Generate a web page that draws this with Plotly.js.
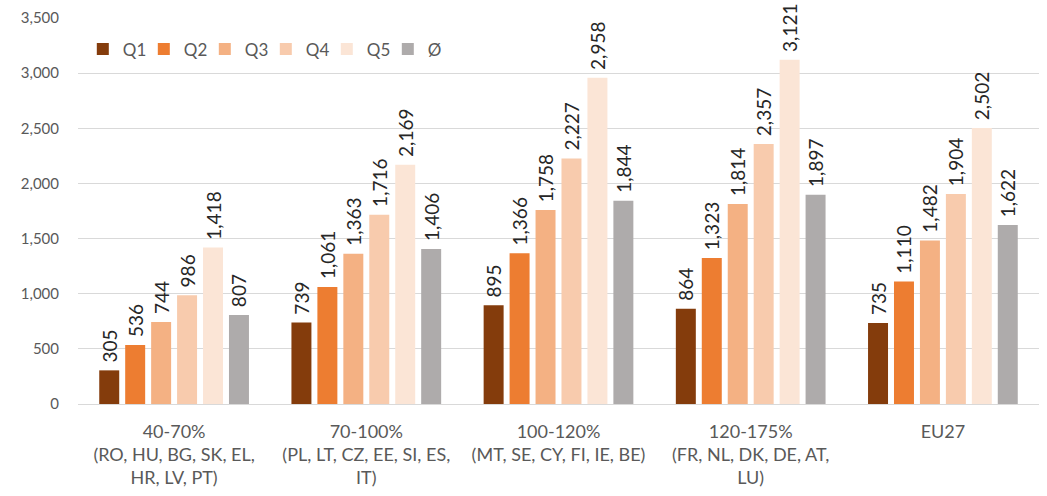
<!DOCTYPE html>
<html>
<head>
<meta charset="utf-8">
<script src="https://cdn.plot.ly/plotly-3.0.1.min.js"></script>
<style>html,body{margin:0;padding:0;background:#fff;}#chart{width:1047px;height:496px;}</style>
</head>
<body>
<div id="chart"></div>
<script>
// Income groups (GDP per capita, % of EU average) with member states
const categories = [
  "40-70%<br>(RO, HU, BG, SK, EL,<br>HR, LV, PT)",
  "70-100%<br>(PL, LT, CZ, EE, SI, ES,<br>IT)",
  "100-120%<br>(MT, SE, CY, FI, IE, BE)",
  "120-175%<br>(FR, NL, DK, DE, AT,<br>LU)",
  "EU27"
];
const seriesNames = ["Q1", "Q2", "Q3", "Q4", "Q5", "Ø"];
const q1 = [305, 739, 895, 864, 735];
const q2 = [536, 1061, 1366, 1323, 1110];
const q3 = [744, 1363, 1758, 1814, 1482];
const q4 = [986, 1716, 2227, 2357, 1904];
const q5 = [1418, 2169, 2958, 3121, 2502];
const avg = [807, 1406, 1844, 1897, 1622];
const colors = ["#843C0C", "#ED7D31", "#F4B183", "#F8CBAD", "#FBE5D6", "#AEABAB"];

const values = [q1, q2, q3, q4, q5, avg];
// thousands separator; the leading space keeps the rotated label off the bar top
const fmt = v => "\u00A0" + v.toLocaleString("en-US");

const traces = values.map((vals, i) => ({
  type: "bar",
  name: seriesNames[i],
  x: categories,
  y: vals,
  marker: {color: colors[i]},
  text: vals.map(fmt),
  textposition: "outside",
  textangle: -90,
  constraintext: "none",
  cliponaxis: false,
  textfont: {family: "Lato, 'Open Sans', sans-serif", size: 19, color: "#262626"},
  hoverinfo: "name+y"
}));

const layout = {
  width: 1047,
  height: 496,
  margin: {l: 78, r: 8, t: 18, b: 92},
  paper_bgcolor: "#ffffff",
  plot_bgcolor: "#ffffff",
  barmode: "group",
  bargap: 0.19,
  bargroupgap: 0.23,
  font: {family: "Lato, 'Open Sans', sans-serif", size: 14, color: "#595959"},
  xaxis: {
    tickfont: {size: 18, color: "#595959"},
    showline: true,
    linecolor: "#D9D9D9",
    linewidth: 1,
    ticks: "",
    ticklabelstandoff: 11
  },
  yaxis: {
    range: [0, 3500],
    dtick: 500,
    tickformat: ",",
    gridcolor: "#D9D9D9",
    gridwidth: 1,
    zeroline: false,
    tickfont: {size: 15, color: "#595959"},
    ticks: "",
    ticklabelstandoff: 18
  },
  legend: {
    orientation: "h",
    x: 0.005,
    y: 0.965,
    xanchor: "left",
    yanchor: "top",
    font: {size: 17, color: "#595959"},
    bgcolor: "rgba(255,255,255,0)",
    itemwidth: 30,
    entrywidth: 16,
    entrywidthmode: "pixels",
    traceorder: "normal"
  },
  showlegend: true
};

Plotly.newPlot("chart", traces, layout, {displayModeBar: false, staticPlot: true});
</script>
</body>
</html>
